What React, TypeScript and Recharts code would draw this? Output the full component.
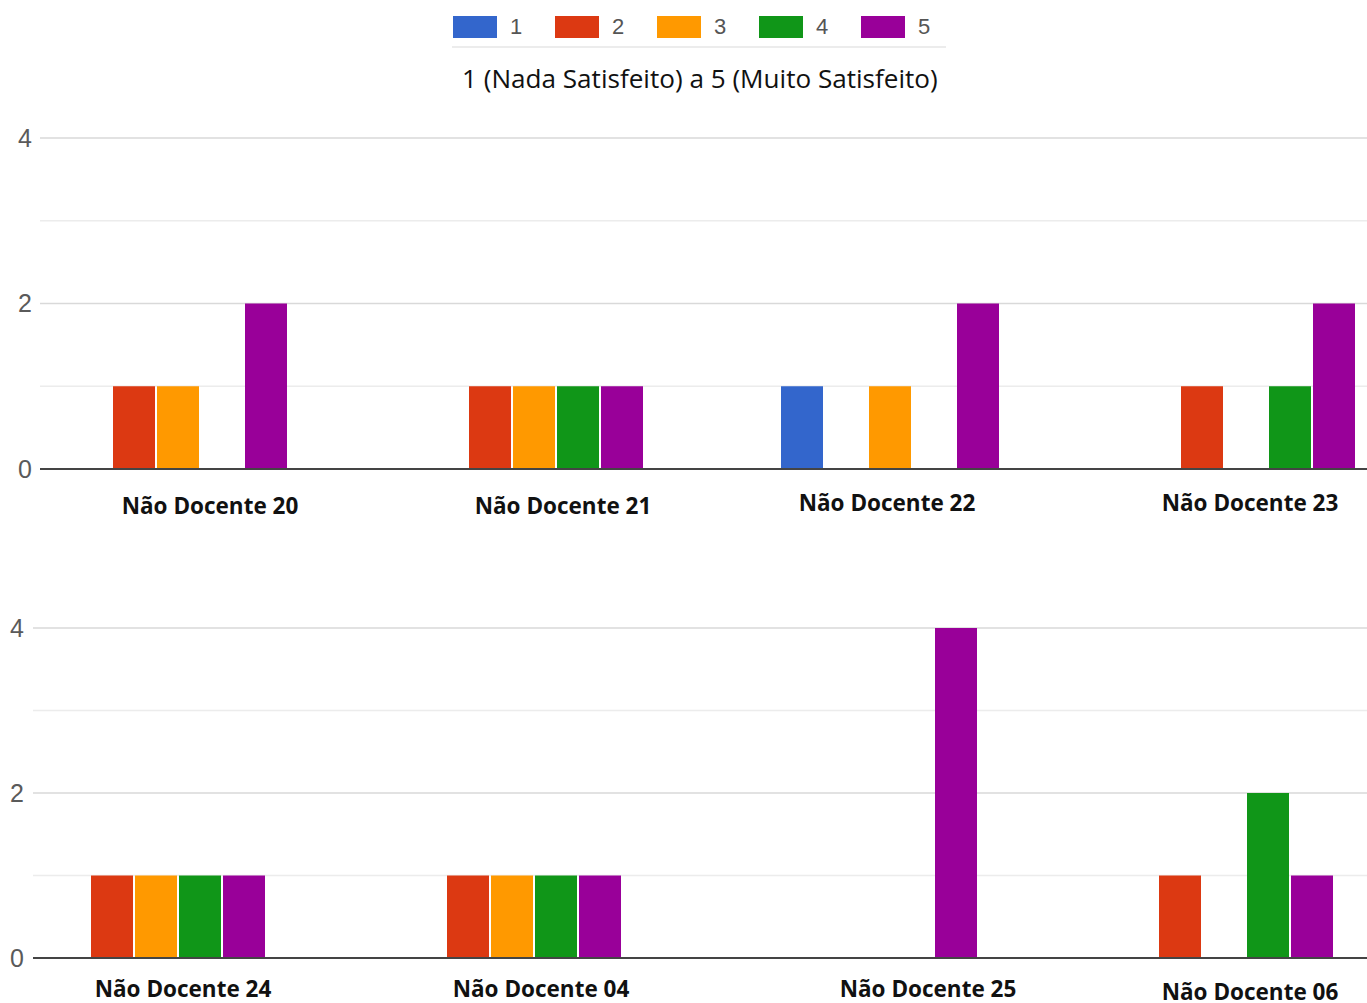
import React from "react";
import {
  BarChart,
  Bar,
  XAxis,
  YAxis,
  CartesianGrid,
} from "recharts";

// ---- data ----
const SERIES_NAMES = ["1", "2", "3", "4", "5"];
const SERIES_COLORS = ["#3366cc", "#dc3912", "#ff9900", "#109618", "#990099"];
const TITLE = "1 (Nada Satisfeito) a 5 (Muito Satisfeito)";

const topCategories = ["Não Docente 20", "Não Docente 21", "Não Docente 22", "Não Docente 23"];
const top1 = [0, 0, 1, 0];
const top2 = [1, 1, 0, 1];
const top3 = [1, 1, 1, 0];
const top4 = [0, 1, 0, 1];
const top5 = [2, 1, 2, 2];

const bottomCategories = ["Não Docente 24", "Não Docente 04", "Não Docente 25", "Não Docente 06"];
const bottom1 = [0, 0, 0, 0];
const bottom2 = [1, 1, 0, 1];
const bottom3 = [1, 1, 0, 0];
const bottom4 = [1, 1, 0, 2];
const bottom5 = [1, 1, 4, 1];

const yTicks = [0, 1, 2, 3, 4];
const majorGrid = [0, 2, 4];
const minorGrid = [1, 3];

const buildRows = (cats: string[], series: number[][]) =>
  cats.map((c, i) => {
    const row: any = { name: c };
    SERIES_NAMES.forEach((s, k) => {
      row["s" + s] = series[k][i];
    });
    return row;
  });

const topRows = buildRows(topCategories, [top1, top2, top3, top4, top5]);
const bottomRows = buildRows(bottomCategories, [bottom1, bottom2, bottom3, bottom4, bottom5]);

// ---- style (label nudges of the collage) ----
const topLabelShift = [[32, 28], [29, 28], [-3, 25], [4, 25]];
const bottomLabelShift = [[27, 22], [29, 22], [60, 22], [26, 25]];

const makeTick = (shift: number[][]) => (props: any) => {
  const { x, y, payload, index } = props;
  const s = shift[index] || [0, 0];
  return (
    <text
      x={x + s[0]}
      y={y + s[1]}
      textAnchor="middle"
      dominantBaseline="central"
      fontFamily="'Open Sans', sans-serif"
      fontWeight={700}
      fontSize={22.5}
      fill="#111"
    >
      {payload.value}
    </text>
  );
};

const yFmt = (v: number) => (v % 2 === 0 ? String(v) : "");

function Panel(props: {
  rows: any[];
  height: number;
  yWidth: number;
  xHeight: number;
  padL: number;
  padR: number;
  shift: number[][];
  tickMargin: number;
}) {
  const { rows, height, yWidth, xHeight, padL, padR, shift, tickMargin } = props;
  return (
    <BarChart
      width={1367}
      height={height}
      data={rows}
      margin={{ top: 138, right: 0, bottom: 0, left: 0 }}
      barGap={2}
    >
      <CartesianGrid
        horizontal
        vertical={false}
        horizontalValues={minorGrid}
        stroke="#ececec"
        strokeWidth={1.5}
      />
      <CartesianGrid
        horizontal
        vertical={false}
        horizontalValues={majorGrid}
        stroke="#d9d9d9"
        strokeWidth={1.5}
      />
      <XAxis
        dataKey="name"
        height={xHeight}
        padding={{ left: padL, right: padR }}
        axisLine={{ stroke: "#444", strokeWidth: 2 }}
        tickLine={false}
        tick={makeTick(shift)}
        interval={0}
      />
      <YAxis
        width={yWidth}
        domain={[0, 4]}
        ticks={yTicks}
        tickFormatter={yFmt}
        axisLine={false}
        tickLine={false}
        tickSize={0}
        tickMargin={tickMargin}
        tick={{ fill: "#5a5a5a", fontSize: 25, fontFamily: "Arial, 'Liberation Sans', sans-serif" }}
        interval={0}
      />
      {SERIES_NAMES.map((s, k) => (
        <Bar
          key={s}
          dataKey={"s" + s}
          fill={SERIES_COLORS[k]}
          barSize={42}
          isAnimationActive={false}
        />
      ))}
    </BarChart>
  );
}

export default function App() {
  return (
    <div
      style={{
        position: "absolute",
        left: 0,
        top: 0,
        width: 1367,
        height: 1003,
        overflow: "hidden",
        background: "#fff",
      }}
    >
      {/* top panel */}
      <div style={{ position: "absolute", left: 0, top: 0 }}>
        <Panel
          rows={topRows}
          height={530}
          yWidth={40}
          xHeight={61}
          padL={-40}
          padR={-57}
          shift={topLabelShift}
          tickMargin={8}
        />
      </div>

      {/* bottom panel */}
      <div style={{ position: "absolute", left: 0, top: 490 }}>
        <Panel
          rows={bottomRows}
          height={513}
          yWidth={33}
          xHeight={45}
          padL={-55}
          padR={-35}
          shift={bottomLabelShift}
          tickMargin={9}
        />
      </div>

      {/* legend */}
      <div style={{ position: "absolute", left: 453, top: 16, height: 22, display: "flex" }}>
        {SERIES_NAMES.map((s, k) => (
          <div key={s} style={{ display: "flex", alignItems: "center", width: 102 }}>
            <div style={{ width: 44, height: 22, background: SERIES_COLORS[k] }} />
            <span
              style={{
                marginLeft: 13,
                fontFamily: "Arial, 'Liberation Sans', sans-serif",
                fontSize: 22,
                color: "#555",
              }}
            >
              {s}
            </span>
          </div>
        ))}
      </div>
      <div
        style={{
          position: "absolute",
          left: 452,
          top: 46,
          width: 494,
          height: 2,
          background: "#ececec",
        }}
      />
      <div
        style={{
          position: "absolute",
          left: 462,
          top: 60,
          fontFamily: "'Open Sans', sans-serif",
          fontSize: 26.1,
          lineHeight: "36px",
          color: "#111",
          whiteSpace: "nowrap",
        }}
      >
        {TITLE}
      </div>
    </div>
  );
}
